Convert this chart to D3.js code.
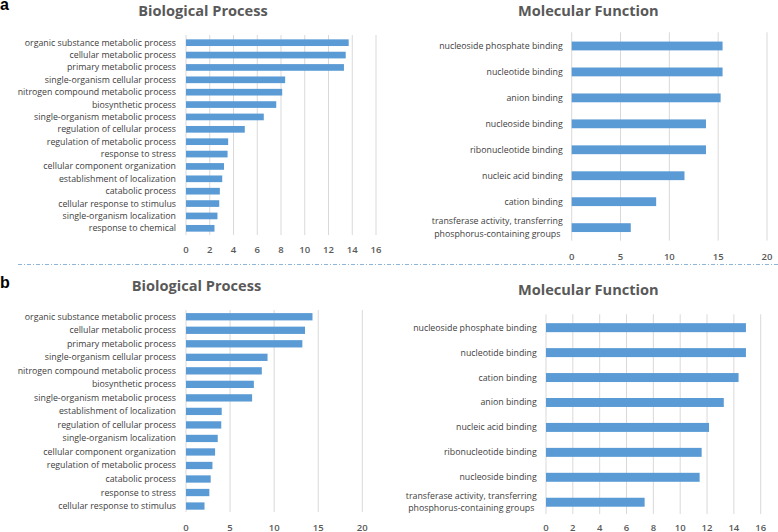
<!DOCTYPE html>
<html>
<head>
<meta charset="utf-8">
<script src="https://cdn.jsdelivr.net/npm/d3@7/dist/d3.min.js"></script>
<style>
  body { margin: 0; background: #fff; }
  svg { display: block; }
  .lbl { font-family: "Open Sans", sans-serif; font-size: 8.8px; fill: #404040; }
  .tick { font-family: "Open Sans", sans-serif; font-size: 9.5px; font-weight: 600; fill: #595959; }
  .title { font-family: "Open Sans", sans-serif; font-size: 14.6px; font-weight: 700; fill: #595959; }
  .panel { font-family: "Liberation Sans", Arial, sans-serif; font-size: 16px; font-weight: 700; fill: #000; }
</style>
</head>
<body>
<script>
// --- data ---
var bpTermsA = ['organic substance metabolic process', 'cellular metabolic process', 'primary metabolic process',
	'single-organism cellular process', 'nitrogen compound metabolic process', 'biosynthetic process',
	'single-organism metabolic process', 'regulation of cellular process', 'regulation of metabolic process',
	'response to stress', 'cellular component organization', 'establishment of localization',
	'catabolic process', 'cellular response to stimulus', 'single-organism localization', 'response to chemical'];
var bpValuesA = [13.7, 13.45, 13.3, 8.35, 8.1, 7.6, 6.55, 4.95, 3.55, 3.5, 3.2, 3.05, 2.85, 2.8, 2.65, 2.4];
var bpTicksA = [0, 2, 4, 6, 8, 10, 12, 14, 16];

var mfTermsA = ['nucleoside phosphate binding', 'nucleotide binding', 'anion binding', 'nucleoside binding',
	'ribonucleotide binding', 'nucleic acid binding', 'cation binding',
	'transferase activity, transferring\nphosphorus-containing groups'];
var mfValuesA = [15.45, 15.45, 15.25, 13.75, 13.75, 11.55, 8.65, 6.05];
var mfTicksA = [0, 5, 10, 15, 20];

var bpTermsB = ['organic substance metabolic process', 'cellular metabolic process', 'primary metabolic process',
	'single-organism cellular process', 'nitrogen compound metabolic process', 'biosynthetic process',
	'single-organism metabolic process', 'establishment of localization', 'regulation of cellular process',
	'single-organism localization', 'cellular component organization', 'regulation of metabolic process',
	'catabolic process', 'response to stress', 'cellular response to stimulus'];
var bpValuesB = [14.35, 13.5, 13.2, 9.25, 8.6, 7.7, 7.5, 4.05, 4.0, 3.6, 3.3, 3.0, 2.8, 2.65, 2.1];
var bpTicksB = [0, 5, 10, 15, 20];

var mfTermsB = ['nucleoside phosphate binding', 'nucleotide binding', 'cation binding', 'anion binding',
	'nucleic acid binding', 'ribonucleotide binding', 'nucleoside binding',
	'transferase activity, transferring\nphosphorus-containing groups'];
var mfValuesB = [14.9, 14.9, 14.35, 13.25, 12.15, 11.6, 11.45, 7.35];
var mfTicksB = [0, 2, 4, 6, 8, 10, 12, 14, 16];

var W = 778, H = 532;
var svg = d3.select('body').append('svg').attr('width', W).attr('height', H);

function drawPanel(p) {
	var g = svg.append('g');
	var x = d3.scaleLinear()
		.domain([0, p.ticks[p.ticks.length - 1]])
		.range([p.x0, p.x1]);
	var y = d3.scaleBand()
		.domain(p.terms)
		.range([p.y0, p.y1])
		.paddingInner(p.pad).paddingOuter(p.pad / 2);

	// gridlines
	g.selectAll('line.grid').data(p.ticks).enter().append('line')
		.attr('x1', function(d) {return x(d);})
		.attr('x2', function(d) {return x(d);})
		.attr('y1', p.gTop).attr('y2', p.gBot)
		.attr('stroke', '#d9d9d9').attr('stroke-width', 1);

	// tick labels
	g.selectAll('text.tick').data(p.ticks).enter().append('text')
		.attr('class', 'tick')
		.attr('x', function(d) {return x(d);})
		.attr('y', p.tickY)
		.attr('text-anchor', 'middle')
		.text(function(d) {return d;});

	// bars
	g.selectAll('rect').data(p.values).enter().append('rect')
		.attr('x', x(0))
		.attr('y', function(d, i) {return y(p.terms[i]);})
		.attr('width', function(d) {return x(d) - x(0);})
		.attr('height', y.bandwidth())
		.attr('fill', '#5b9bd5');

	// category labels, multi-line ones centred on each other
	p.terms.forEach(function(t) {
		var lines = t.split('\n');
		var cy = y(t) + y.bandwidth() / 2;
		var txt = g.append('text').attr('class', 'lbl');
		if (lines.length === 1) {
			txt.attr('x', p.lblX).attr('y', cy + 3).attr('text-anchor', 'end').text(t);
			return;}
		lines.forEach(function(l, k) {
			txt.append('tspan').attr('y', cy + 3 + (k - (lines.length - 1) / 2) * 12.3).text(l);});
		var maxW = 0;
		txt.selectAll('tspan').each(function() {maxW = Math.max(maxW, this.getComputedTextLength());});
		txt.attr('text-anchor', 'middle');
		txt.selectAll('tspan').attr('x', p.lblX - maxW / 2);
	});

	g.append('text').attr('class', 'title')
		.attr('x', p.titleX).attr('y', p.titleY)
		.attr('text-anchor', 'middle')
		.text(p.title);
}

drawPanel({terms: bpTermsA, values: bpValuesA, ticks: bpTicksA, pad: 0.46,
	x0: 186, x1: 376, y0: 36.5, y1: 234.5, gTop: 35, gBot: 235, tickY: 252.5, lblX: 176,
	title: 'Biological Process', titleX: 203, titleY: 15.5});
drawPanel({terms: mfTermsA, values: mfValuesA, ticks: mfTicksA, pad: 0.66,
	x0: 571.7, x1: 767, y0: 33, y1: 240.6, gTop: 32.3, gBot: 240.6, tickY: 259.5, lblX: 562.7,
	title: 'Molecular Function', titleX: 588.3, titleY: 15.5});
drawPanel({terms: bpTermsB, values: bpValuesB, ticks: bpTicksB, pad: 0.46,
	x0: 186, x1: 362.3, y0: 310, y1: 512.8, gTop: 310, gBot: 512, tickY: 530.5, lblX: 176,
	title: 'Biological Process', titleX: 196.5, titleY: 290.5});
drawPanel({terms: mfTermsB, values: mfValuesB, ticks: mfTicksB, pad: 0.64,
	x0: 546, x1: 760.7, y0: 315.2, y1: 514.7, gTop: 314.3, gBot: 514, tickY: 530.5, lblX: 536.7,
	title: 'Molecular Function', titleX: 588.3, titleY: 294.5});

// separator between a and b
svg.append('line')
	.attr('x1', 18).attr('x2', W).attr('y1', 264.5).attr('y2', 264.5)
	.attr('stroke', '#8db4d9').attr('stroke-width', 1)
	.attr('stroke-dasharray', '4,2,1,2');

svg.append('text').attr('class', 'panel').attr('x', 0).attr('y', 10).text('a');
svg.append('text').attr('class', 'panel').attr('x', 0).attr('y', 288).text('b');
</script>
</body>
</html>
